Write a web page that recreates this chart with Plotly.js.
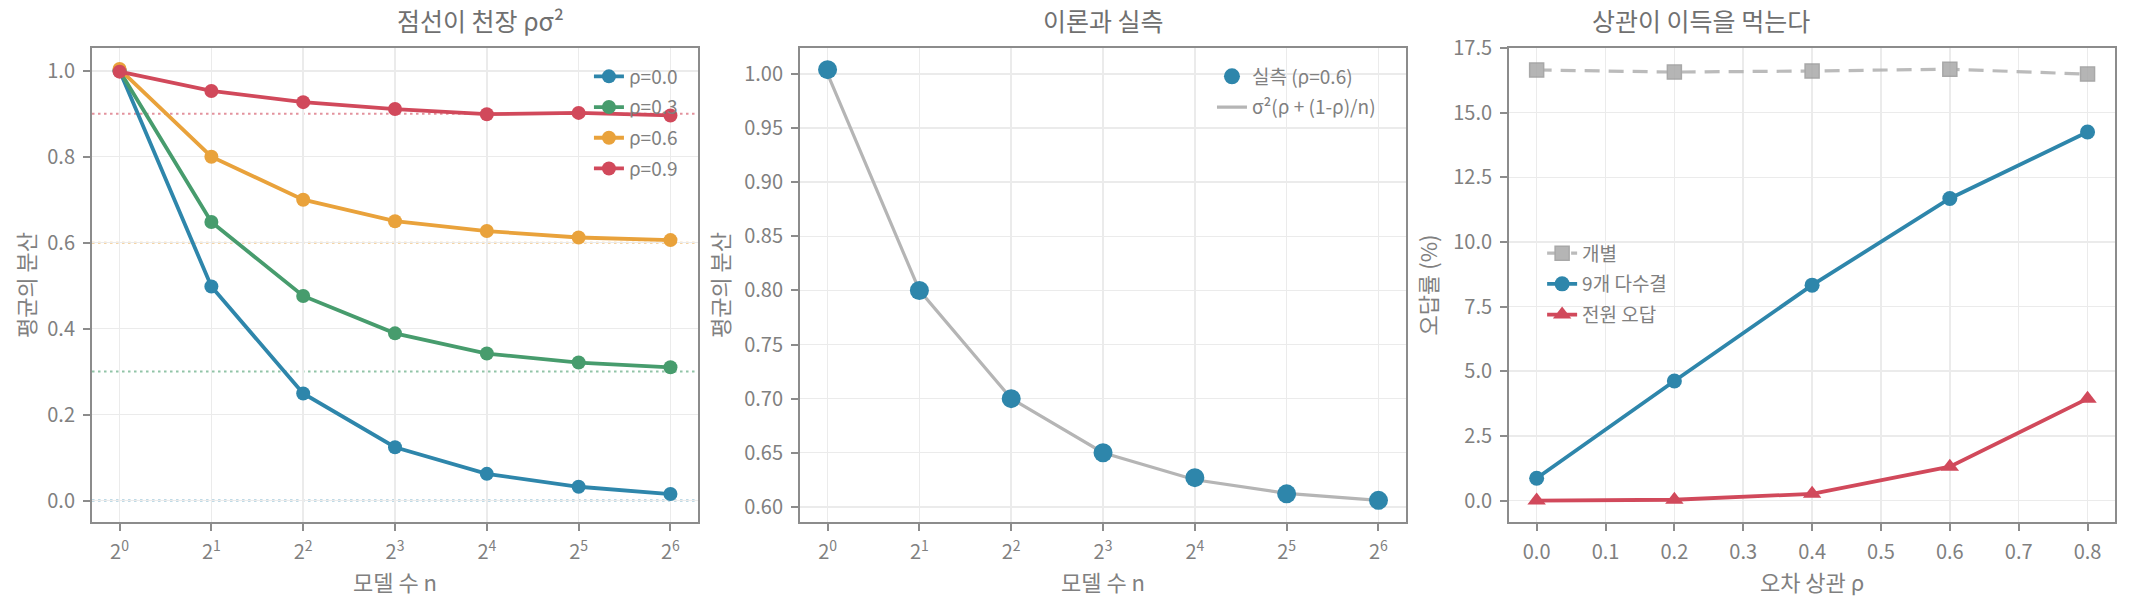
<!DOCTYPE html>
<html>
<head>
<meta charset="utf-8">
<script src="https://cdn.plot.ly/plotly-3.0.1.min.js"></script>
<style>
  html, body { margin: 0; padding: 0; background: #fff; }
  #chart { width: 2130px; height: 610px; }
</style>
</head>
<body>
<div id="chart"></div>
<script>
// ---- data ----
let nVals = [1, 2, 4, 8, 16, 32, 64];
let nExp = [0, 1, 2, 3, 4, 5, 6];

let rhoNames = ["ρ=0.0", "ρ=0.3", "ρ=0.6", "ρ=0.9"];
let rhoVals = [0.0, 0.3, 0.6, 0.9];
let var00 = [1.0, 0.498, 0.249, 0.124, 0.062, 0.032, 0.015];
let var03 = [1.0, 0.648, 0.476, 0.389, 0.342, 0.321, 0.310];
let var06 = [1.004, 0.800, 0.700, 0.650, 0.627, 0.612, 0.606];
let var09 = [0.998, 0.953, 0.927, 0.911, 0.899, 0.902, 0.896];

// panel 2: measured (rho=0.6) and the theory line
let measured = [1.004, 0.800, 0.700, 0.650, 0.627, 0.612, 0.606];
let theoryY = [1.0, 0.8, 0.7, 0.65, 0.625, 0.6125, 0.606];

// panel 3
let rhoErr = [0.0, 0.2, 0.4, 0.6, 0.8];
let errSingle = [16.65, 16.57, 16.61, 16.68, 16.49];
let errVote9 = [0.86, 4.62, 8.33, 11.68, 14.25];
let errAllWrong = [0.0, 0.03, 0.26, 1.31, 3.94];

// ---- style ----
let colors = ["#2E86AB", "#479C6D", "#E9A23B", "#D1495B"];
let dotColors = ["rgba(46,134,171,0.6)", "rgba(71,156,109,0.6)", "rgba(233,162,59,0.6)", "rgba(209,73,91,0.6)"];
let font = "'Noto Sans CJK KR', 'Noto Sans', sans-serif";
let txt = "#808080";
let spine = "#8c8c8c";
let grid = "#ebebeb";

let series = [var00, var03, var06, var09];
let traces = [];

series.forEach(function (ys, i) {
  traces.push({
    x: nVals, y: ys, name: rhoNames[i],
    type: "scatter", mode: "lines+markers",
    line: {color: colors[i], width: 3.8},
    marker: {color: colors[i], size: 14},
    xaxis: "x", yaxis: "y", legend: "legend", legendgroup: "a" + i
  });
});

traces.push({
  x: nVals, y: theoryY, name: "σ²(ρ + (1-ρ)/n)",
  type: "scatter", mode: "lines",
  line: {color: "#b5b5b5", width: 3.2},
  xaxis: "x2", yaxis: "y2", legend: "legend2", legendrank: 2, legendgroup: "b1"
});
traces.push({
  x: nVals, y: measured, name: "실측 (ρ=0.6)",
  type: "scatter", mode: "markers",
  marker: {color: colors[0], size: 19},
  xaxis: "x2", yaxis: "y2", legend: "legend2", legendrank: 1, legendgroup: "b0"
});

traces.push({
  x: rhoErr, y: errSingle, name: "개별",
  type: "scatter", mode: "lines+markers",
  line: {color: "#b0b0b0", width: 3.2, dash: "15px,9px"},
  marker: {color: "#a9a9a9", symbol: "square", size: 14, line: {color: "#999999", width: 1.5}},
  opacity: 0.85,
  xaxis: "x3", yaxis: "y3", legend: "legend3", legendgroup: "c0"
});
traces.push({
  x: rhoErr, y: errVote9, name: "9개 다수결",
  type: "scatter", mode: "lines+markers",
  line: {color: colors[0], width: 3.8},
  marker: {color: colors[0], size: 15},
  xaxis: "x3", yaxis: "y3", legend: "legend3", legendgroup: "c1"
});
traces.push({
  x: rhoErr, y: errAllWrong, name: "전원 오답",
  type: "scatter", mode: "lines+markers",
  line: {color: colors[3], width: 3.8},
  marker: {color: colors[3], symbol: "triangle-up", size: 16},
  xaxis: "x3", yaxis: "y3", legend: "legend3", legendgroup: "c2"
});

// dotted ceilings rho*sigma^2
let shapes = rhoVals.map(function (r, i) {
  return {
    type: "line", xref: "x domain", yref: "y", x0: 0, x1: 1, y0: r, y1: r,
    line: {color: dotColors[i], width: 2, dash: "2.5px,3.5px"}, layer: "below"
  };
});

let tickText = nExp.map(function (e) { return "2<sup>" + e + "</sup>"; });
let logRange = [-0.3 * Math.LOG10E * Math.LN2, 6.3 * Math.LOG10E * Math.LN2];

function axisBase() {
  return {
    showline: true, mirror: true, linecolor: spine, linewidth: 2,
    ticks: "outside", ticklen: 7, tickwidth: 2, tickcolor: spine,
    showgrid: true, gridcolor: grid, gridwidth: 1.5, zeroline: false,
    tickfont: {family: font, size: 20, color: txt},
    ticklabelstandoff: 4,
    automargin: false
  };
}
function axTitle(t, so) {
  return {text: t, font: {family: font, size: 22, color: txt}, standoff: so};
}

let xa1 = Object.assign(axisBase(), {domain: [0.0432, 0.3277], type: "log", range: logRange,
  tickvals: nVals, ticktext: tickText, title: axTitle("모델 수 n", 8), anchor: "y"});
let xa2 = Object.assign(axisBase(), {domain: [0.3756, 0.6601], type: "log", range: logRange,
  tickvals: nVals, ticktext: tickText, title: axTitle("모델 수 n", 8), anchor: "y2"});
let xa3 = Object.assign(axisBase(), {domain: [0.7085, 0.9930], range: [-0.04, 0.84],
  dtick: 0.1, tick0: 0, tickformat: ".1f", title: axTitle("오차 상관 ρ", 8), anchor: "y3"});

let ya1 = Object.assign(axisBase(), {range: [-0.05, 1.053], dtick: 0.2, tick0: 0, tickformat: ".1f",
  title: axTitle("평균의 분산", 6), anchor: "x"});
let ya2 = Object.assign(axisBase(), {range: [0.586, 1.024], dtick: 0.05, tick0: 0.6, tickformat: ".2f",
  title: axTitle("평균의 분산", 8), anchor: "x2"});
let ya3 = Object.assign(axisBase(), {range: [-0.83, 17.5], dtick: 2.5, tick0: 0, tickformat: ".1f",
  title: axTitle("오답률 (%)", 10), anchor: "x3"});

function legendBox(x, y) {
  return {x: x, y: y, xanchor: "left", yanchor: "top", bgcolor: "rgba(0,0,0,0)",
    font: {family: font, size: 19, color: txt}, traceorder: "grouped", tracegroupgap: 3, itemwidth: 30};
}

function subTitle(t, xc) {
  return {text: t, xref: "paper", yref: "paper", x: xc, y: 1, yanchor: "bottom", yshift: 8,
    showarrow: false, font: {family: font, size: 25, color: "#707070"}};
}

let layout = {
  width: 2130, height: 610,
  margin: {l: 0, r: 0, t: 48, b: 88},
  paper_bgcolor: "#fff", plot_bgcolor: "#fff",
  showlegend: true,
  xaxis: xa1, yaxis: ya1, xaxis2: xa2, yaxis2: ya2, xaxis3: xa3, yaxis3: ya3,
  legend: legendBox(0.2765, 0.98),
  legend2: legendBox(0.569, 0.98),
  legend3: legendBox(0.724, 0.607),
  shapes: shapes,
  annotations: [
    subTitle("점선이 천장 ρσ²", (0.0432 + 0.3277) / 2),
    subTitle("이론과 실측", (0.3756 + 0.6601) / 2),
    subTitle("상관이 이득을 먹는다", (0.7085 + 0.9930) / 2)
  ]
};

Plotly.newPlot("chart", traces, layout, {displayModeBar: false, staticPlot: true});
</script>
</body>
</html>
